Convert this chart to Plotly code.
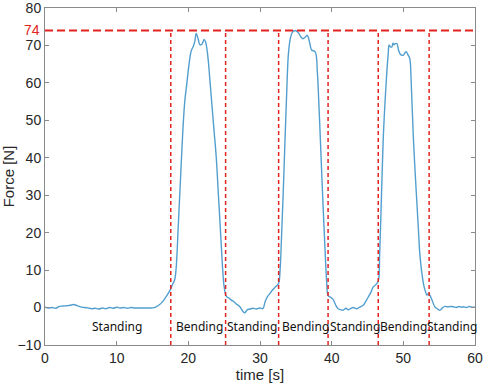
import plotly.graph_objects as go

time_s = [0, 0.5, 1, 1.5, 2, 2.5, 3, 3.5, 4, 4.5, 5, 5.5, 6, 6.5, 7, 7.5, 8, 8.5, 9, 9.5,
          10, 10.5, 11, 11.5, 12, 12.5, 13, 13.5, 14, 14.5, 15, 15.5,
          16, 16.5, 17, 17.5, 17.8, 18.1, 18.3, 18.6, 18.9, 19.2, 19.5, 19.8, 20.1, 20.4, 20.7,
          20.9, 21.1, 21.4, 21.6, 21.9, 22.2, 22.4, 22.7, 23.0, 23.3, 23.6, 23.9, 24.2, 24.5,
          24.8, 25.0, 25.3, 25.7, 26.0, 26.4, 26.8, 27.2, 27.6, 27.9, 28.2, 28.6, 29.0, 29.5,
          30.0, 30.4, 30.7, 31.0, 31.4, 31.8, 32.2, 32.6, 32.8, 33.0, 33.3, 33.5, 33.7, 33.95,
          34.2, 34.5, 34.9, 35.3, 35.7, 36.0, 36.3, 36.6, 36.9, 37.2, 37.7, 38.0, 38.2, 38.4,
          38.6, 38.85, 39.1, 39.3, 39.5, 39.8, 40.2, 40.6, 40.9, 41.3, 41.6, 42.0, 42.3, 42.6,
          43.0, 43.5, 44.0, 44.4, 44.8, 45.1, 45.5, 45.8, 46.2, 46.5, 46.7, 46.95, 47.2, 47.45,
          47.7, 47.9, 48.0, 48.2, 48.4, 48.55, 48.7, 48.9, 49.1, 49.3, 49.5, 49.75, 50.0, 50.2,
          50.4, 50.65, 50.9, 51.1, 51.4, 51.65, 51.9, 52.1, 52.3, 52.6, 52.9, 53.1, 53.3, 53.5,
          53.7, 54.0, 54.4, 54.8, 55.1, 55.5, 55.8, 56.2, 56.6, 57.0, 57.4, 57.8, 58.1, 58.4,
          58.8, 59.2, 59.6, 60.0]
force_n = [0.1, -0.1, 0.0, -0.2, 0.3, 0.4, 0.5, 0.6, 0.8, 0.5, 0.2, 0.0, -0.1, -0.3, -0.2, -0.4, -0.1, -0.3, 0.0, -0.2,
           0.1, -0.1, 0.0, -0.2, 0.0, -0.1, -0.1, -0.1, -0.1, -0.1, -0.1, 0.2,
           0.8, 1.8, 3.2, 4.8, 6.2, 7.5, 10.5, 22, 34, 46, 55, 60, 65, 68.5, 69.8,
           71, 73.2, 71.5, 70.2, 70.3, 71.6, 71, 67.5, 61, 54, 47, 40, 30, 20,
           10, 5.5, 3, 2.5, 2.0, 1.5, 0.8, 0.2, -1.0, -1.4, -0.6, -0.4, -0.2, -0.4,
           -0.1, -0.3, 1.5, 2.8, 3.8, 4.8, 5.6, 6.5, 10, 18.7, 34, 45.3, 56, 67.4,
           71.5, 73.5, 74, 73.5, 72.3, 71.8, 72.2, 72.7, 71, 68.8, 68.3, 63, 55, 46,
           36.4, 25, 14.4, 7, 3.2, 2.8, 2.2, 0.5, -0.3, -0.6, -0.7, -0.2, -0.6, -0.3,
           0.0, -0.3, 0.2, 0.6, 1.8, 2.8, 4.2, 5.5, 6.2, 7.0, 14.4, 30, 45.3, 55,
           63, 68, 70.1, 69.6, 69.6, 70.6, 70.2, 70.5, 70.5, 69, 67.9, 67.4, 67.4, 68.0,
           68.3, 67.5, 66.5, 60, 45.3, 36, 27.7, 21, 14.4, 9, 5.5, 4.2, 3.3, 3.8,
           3.3, 2.0, 0.2, -0.4, -0.7, 0.0, 0.3, 0.2, 0.3, 0.2, 0.0, 0.3, 0.1, 0.2,
           0.0, 0.3, 0.1, 0.1]

threshold = 74
boundaries = [17.55, 25.2, 32.6, 39.5, 46.5, 53.6]
phase_labels = ["Standing", "Bending", "Standing", "Bending", "Standing", "Bending", "Standing"]
phase_x = [10, 21.5, 28.9, 36.3, 43.2, 50.0, 56.8]
phase_y = -5.1

x_ticks = [0, 10, 20, 30, 40, 50, 60]
y_ticks = [-10, 0, 10, 20, 30, 40, 50, 60, 70, 80]

red = "#e3231f"
axis_col = "#8a8a8a"
txt_col = "#262626"

fig = go.Figure()

fig.add_trace(go.Scatter(x=time_s, y=force_n, mode="lines",
                         line=dict(color="#529fcf", width=1.4), showlegend=False,
                         line_shape="spline"))

for b in boundaries:
    fig.add_trace(go.Scatter(x=[b, b], y=[-10, threshold], mode="lines",
                             line=dict(color=red, width=1.5, dash="4px,3px"),
                             showlegend=False))

fig.add_trace(go.Scatter(x=[0, 60], y=[threshold, threshold], mode="lines",
                         line=dict(color=red, width=2, dash="8px,4px"), showlegend=False))

for lab, px in zip(phase_labels, phase_x):
    fig.add_annotation(x=px, y=phase_y, text=lab, showarrow=False,
                       font=dict(family="Noto Sans", size=12, color="#111111"))

fig.add_annotation(x=0, xref="paper", y=threshold, yref="y", text=str(threshold),
                   showarrow=False, xanchor="right", xshift=-3,
                   font=dict(family="Liberation Sans, Arial", size=14, color=red))

fig.update_layout(
    width=484, height=389,
    margin=dict(l=45, r=9, t=8, b=44, autoexpand=False),
    plot_bgcolor="white", paper_bgcolor="white",
    font=dict(family="Liberation Sans, Arial", size=14, color=txt_col),
    xaxis=dict(range=[0, 60], tickvals=x_ticks, ticks="inside", ticklen=4,
               tickcolor=axis_col, showline=True, linecolor=axis_col, linewidth=1,
               mirror="ticks", showgrid=False, zeroline=False, automargin=False,
               ticklabeloverflow="allow",
               title=dict(text="time [s]", standoff=2, font=dict(size=15))),
    yaxis=dict(range=[-10, 80], tickvals=y_ticks, ticks="inside",
               ticklen=4, tickcolor=axis_col, showline=True, linecolor=axis_col, linewidth=1,
               mirror="ticks", showgrid=False, zeroline=False, automargin=False,
               ticklabeloverflow="allow",
               title=dict(text="Force [N]", standoff=2, font=dict(size=15))),
)

fig.write_html("out.html", config={"displayModeBar": False},
               post_script="document.body.style.margin='0';")
